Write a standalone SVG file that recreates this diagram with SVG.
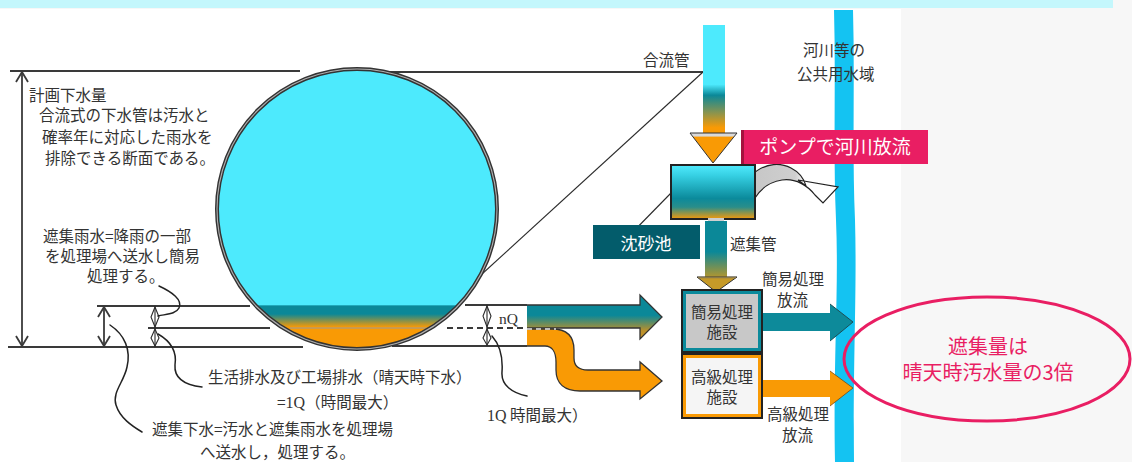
<svg xmlns="http://www.w3.org/2000/svg" width="1132" height="462" viewBox="0 0 1132 462">
<defs>
<style>
.t{font-family:"Noto Sans CJK JP","Noto Sans",sans-serif;font-size:15.5px;fill:#333}
.s{font-family:"Liberation Serif",serif}
.ln{stroke:#3a3a3a;stroke-width:1.8;fill:none}
.thin{stroke:#2a2a2a;stroke-width:1.1;fill:none}
.lead{stroke:#222;stroke-width:1.5;fill:none;stroke-linecap:round}
.ol{stroke:#333;stroke-width:1.3;stroke-linejoin:miter}
</style>
<linearGradient id="gCirc" gradientUnits="userSpaceOnUse" x1="0" y1="69" x2="0" y2="349">
<stop offset="0" stop-color="#4deafd"/><stop offset="0.842" stop-color="#4deafd"/>
<stop offset="0.846" stop-color="#0b8898"/><stop offset="0.875" stop-color="#0b8898"/>
<stop offset="0.922" stop-color="#f99a05"/><stop offset="1" stop-color="#f99a05"/>
</linearGradient>
<linearGradient id="gPipe" gradientUnits="userSpaceOnUse" x1="0" y1="25" x2="0" y2="133">
<stop offset="0" stop-color="#4deafd"/><stop offset="0.55" stop-color="#4deafd"/>
<stop offset="0.65" stop-color="#0b8898"/><stop offset="0.8" stop-color="#7f9355"/>
<stop offset="0.95" stop-color="#f99a05"/><stop offset="1" stop-color="#f99a05"/>
</linearGradient>
<linearGradient id="gHead" x1="0" y1="0" x2="0" y2="1">
<stop offset="0" stop-color="#d9d9d9"/><stop offset="0.1" stop-color="#d9d9d9"/>
<stop offset="0.14" stop-color="#f99a05"/><stop offset="1" stop-color="#f99a05"/>
</linearGradient>
<linearGradient id="gBox" x1="0" y1="0" x2="0" y2="1">
<stop offset="0" stop-color="#50eafd"/><stop offset="0.2" stop-color="#35cfe2"/>
<stop offset="0.62" stop-color="#0b8a9b"/><stop offset="0.78" stop-color="#2a8e8a"/>
<stop offset="1" stop-color="#f59a0a"/>
</linearGradient>
<linearGradient id="gTurn" gradientUnits="userSpaceOnUse" x1="740" y1="0" x2="840" y2="0">
<stop offset="0" stop-color="#c4c4c4"/><stop offset="0.55" stop-color="#cfcfcf"/>
<stop offset="0.66" stop-color="#fff"/><stop offset="1" stop-color="#fff"/>
</linearGradient>
<linearGradient id="gSub" gradientUnits="userSpaceOnUse" x1="0" y1="219" x2="0" y2="292">
<stop offset="0" stop-color="#0b8898"/><stop offset="0.45" stop-color="#0b8898"/>
<stop offset="0.8" stop-color="#b3962e"/><stop offset="1" stop-color="#d49a1c"/>
</linearGradient>
<linearGradient id="gNq" gradientUnits="userSpaceOnUse" x1="0" y1="296" x2="0" y2="339">
<stop offset="0" stop-color="#0b8898"/><stop offset="0.45" stop-color="#0b8898"/>
<stop offset="0.8" stop-color="#b8902c"/><stop offset="1" stop-color="#c99526"/>
</linearGradient>
</defs>

<!-- page background -->
<rect width="1132" height="462" fill="#f7f7f7"/>
<rect x="0" y="9" width="901" height="453" fill="#fff"/>
<rect x="0" y="0" width="1113" height="8" fill="#c4f7fc"/>

<!-- river -->
<g id="river">
<path d="M834,10 C836,80 833,150 836,220 C839,290 833,360 835,462 L854,462 C853,360 857,290 855,220 C852,150 855,80 853,10 Z" fill="#14c3f2"/>
<text class="t" x="803" y="56" font-size="16">河川等の</text>
<text class="t" x="797" y="79.5" font-size="15.5">公共用水域</text>
</g>

<!-- dimension and guide lines -->
<g id="connectors">
<line class="ln" x1="10" y1="71" x2="300" y2="71"/>
<line class="ln" x1="340" y1="72" x2="703" y2="72"/>
<line class="thin" x1="703" y1="72" x2="470" y2="285"/>
<line class="thin" x1="671" y1="193" x2="625" y2="240"/>
<line class="ln" x1="97" y1="306" x2="250" y2="306"/>
<line class="ln" x1="465" y1="305" x2="527" y2="305"/>
<line class="ln" x1="148" y1="328" x2="270" y2="328"/>
<line class="ln" x1="447" y1="328" x2="527" y2="328" stroke-dasharray="6 4"/>
<line class="ln" x1="8" y1="347" x2="303" y2="347"/>
<line class="ln" x1="392" y1="346" x2="527" y2="346"/>
<!-- overall height -->
<line class="ln" x1="22" y1="72" x2="22" y2="346"/>
<polyline class="ln" points="16,82 22,72 28,82"/>
<polyline class="ln" points="16,336 22,346 28,336"/>
<!-- intercepted flow height -->
<line class="ln" x1="104" y1="307" x2="104" y2="346"/>
<polyline class="ln" points="98,317 104,307 110,317"/>
<polyline class="ln" points="98,336 104,346 110,336"/>
<!-- nQ / 1Q marks -->
<g class="thin" stroke-width="1.4">
<line x1="155" y1="306" x2="155" y2="347"/>
<path d="M155,307 L151,317 L155,327 L159,317 Z"/>
<path d="M155,329 L151,338 L155,346 L159,338 Z"/>
<line x1="487" y1="305" x2="487" y2="346"/>
<path d="M487,306 L483,316 L487,327 L491,316 Z"/>
<path d="M487,329 L483,338 L487,345 L491,338 Z"/>
</g>
<!-- leaders -->
<path class="lead" d="M159,286 C172,292 183,300 179,308 C176,314 167,314 158,316"/>
<path class="lead" d="M158,334 C172,342 177,352 175,365 C174,378 185,385 202,387"/>
<path class="lead" d="M110,325 C125,335 131,350 127,367 C124,382 112,392 116,405 C120,418 132,426 142,432"/>
<path class="lead" d="M492,336 C500,345 503,358 502,372 C501,385 512,393 527,396"/>
</g>

<!-- sewer cross-section -->
<g id="section">
<circle cx="357" cy="209" r="140" fill="url(#gCirc)"/>
<line x1="290" y1="328" x2="427" y2="328" stroke="#9a9a9a" stroke-width="1"/>
<circle cx="357" cy="209" r="140" fill="none" stroke="#333" stroke-width="4"/>
<circle cx="357" cy="209" r="140" fill="none" stroke="#b0b0b0" stroke-width="1.1"/>
</g>

<!-- left annotations -->
<g id="notes">
<text class="t" x="29" y="101">計画下水量</text>
<text class="t" x="39" y="121">合流式の下水管は汚水と</text>
<text class="t" x="42" y="142.5">確率年に対応した雨水を</text>
<text class="t" x="45" y="163.5">排除できる断面である。</text>
<text class="t" x="43" y="242" font-size="15.2">遮集雨水=降雨の一部</text>
<text class="t" x="45" y="262" font-size="15.2">を処理場へ送水し簡易</text>
<text class="t" x="87" y="282" font-size="15.2">処理する。</text>
<text class="t" x="208" y="382.5">生活排水及び工場排水（晴天時下水）</text>
<text class="t" x="277" y="408">=<tspan class="s" font-size="16">1Q</tspan>（時間最大）</text>
<text class="t" x="152" y="434.5">遮集下水=汚水と遮集雨水を処理場</text>
<text class="t" x="200" y="458">へ送水し，処理する。</text>
<text class="t s" x="499" y="324" font-size="17">nQ</text>
<text class="t" x="487" y="421"><tspan class="s" font-size="16">1Q</tspan> 時間最大）</text>
</g>

<!-- intercepted flows -->
<g id="flow-nq">
<path d="M527,305 L640,305 L640,295 L662,317 L640,339 L640,328 L527,328" fill="url(#gNq)" class="ol"/>
</g>
<g id="flow-1q">
<path d="M527,329 L552,329 C566,329 574,336 574,350 L574,358 C574,365 578,370 588,370 L640,370 L640,362 L662,381 L640,399 L640,391 L580,391 C565,391 556,384 556,370 L556,362 C556,352 552,346 545,346 L527,346" fill="#f99a05" class="ol"/>
<line x1="527" y1="329" x2="556" y2="329" stroke="#e6e6e6" stroke-width="1.4" stroke-dasharray="5 4"/>
</g>

<!-- combined sewer inflow -->
<g id="combined-pipe">
<rect x="703" y="25" width="22" height="108" fill="url(#gPipe)"/>
<path d="M690,133 L737,133 L713,163 Z" fill="url(#gHead)" stroke="#333" stroke-width="1"/>
<text class="t" x="643" y="66" font-size="16">合流管</text>
</g>

<!-- pump discharge arrow -->
<g id="pump-discharge">
<path d="M739,201 C741,176 768,156 791,168 C799,172 804,179 806,186 L798,180 L838,187 L823,203 L815,195 C808,186 796,178 782,180 C768,182 760,190 755,198 Z" fill="url(#gTurn)" stroke="#222" stroke-width="1.2"/>
</g>

<!-- grit chamber -->
<g id="grit-chamber">
<rect x="671" y="165" width="84" height="54" fill="url(#gBox)" stroke="#222" stroke-width="2"/>
</g>

<g id="pump-label">
<rect x="742" y="130" width="186" height="34" fill="#e91e63"/>
<rect x="741" y="130" width="3" height="34" fill="#a5123f"/>
<text x="835" y="154" text-anchor="middle" font-family="Noto Sans CJK JP, sans-serif" font-size="19" fill="#fff">ポンプで河川放流</text>
</g>

<!-- interceptor pipe -->
<g id="interceptor">
<rect x="708" y="218" width="16" height="4" fill="#cfcfcf"/>
<rect x="705" y="221" width="22" height="56" fill="url(#gSub)"/>
<path d="M697,277 L737,277 L716,292 Z" fill="#c69a28" stroke="#333" stroke-width="1"/>
<line x1="698" y1="277.5" x2="736" y2="277.5" stroke="#8a7a4a" stroke-width="1.5"/>
<text class="t" x="730" y="249.5" font-size="16">遮集管</text>
</g>

<g id="grit-label">
<rect x="593" y="225" width="107" height="34" fill="#035c6b"/>
<text x="646" y="249.5" text-anchor="middle" font-family="Noto Sans CJK JP, sans-serif" font-size="17" fill="#fff">沈砂池</text>
</g>

<!-- treatment facilities -->
<g id="primary-plant">
<rect x="681" y="289" width="82" height="64" fill="#222"/>
<rect x="683" y="291" width="78" height="60" fill="#0b8a9b"/>
<rect x="686" y="294" width="72" height="54" fill="#c8c8c8"/>
<text class="t" x="722" y="317.5" text-anchor="middle" font-size="16">簡易処理</text>
<text class="t" x="722" y="337.5" text-anchor="middle" font-size="16">施設</text>
</g>
<g id="advanced-plant">
<rect x="681" y="353" width="82" height="66" fill="#222"/>
<rect x="683" y="355" width="78" height="62" fill="#f99a05"/>
<rect x="686" y="358" width="72" height="56" fill="#f5f5f5"/>
<text class="t" x="722" y="382.5" text-anchor="middle" font-size="16">高級処理</text>
<text class="t" x="722" y="402.5" text-anchor="middle" font-size="16">施設</text>
</g>

<!-- discharges to the river -->
<g id="discharge-primary">
<path d="M763,313 L830,313 L830,304 L853,322 L830,341 L830,331 L763,331 Z" fill="#0d8a9a"/>
<path d="M830,304 L853,322 L830,341" fill="none" stroke="#1c4e55" stroke-width="1"/>
<text class="t" x="762" y="285" font-size="16">簡易処理</text>
<text class="t" x="777" y="306" font-size="16">放流</text>
</g>
<g id="discharge-advanced">
<path d="M763,380 L830,380 L830,371 L853,388 L830,406 L830,397 L763,397 Z" fill="#f99a05"/>
<path d="M830,371 L853,388 L830,406" fill="none" stroke="#7a4a10" stroke-width="0.8"/>
<text class="t" x="767" y="419.5" font-size="16">高級処理</text>
<text class="t" x="782" y="441" font-size="16">放流</text>
</g>

<!-- callout -->
<g id="callout">
<ellipse cx="987" cy="359" rx="143" ry="62" fill="none" stroke="#e91e63" stroke-width="3"/>
<text x="988" y="353.5" text-anchor="middle" font-family="Noto Sans CJK JP, sans-serif" font-size="20" fill="#e91e63">遮集量は</text>
<text x="988" y="380" text-anchor="middle" font-family="Noto Sans CJK JP, sans-serif" font-size="20" fill="#e91e63">晴天時汚水量の3倍</text>
</g>
</svg>
